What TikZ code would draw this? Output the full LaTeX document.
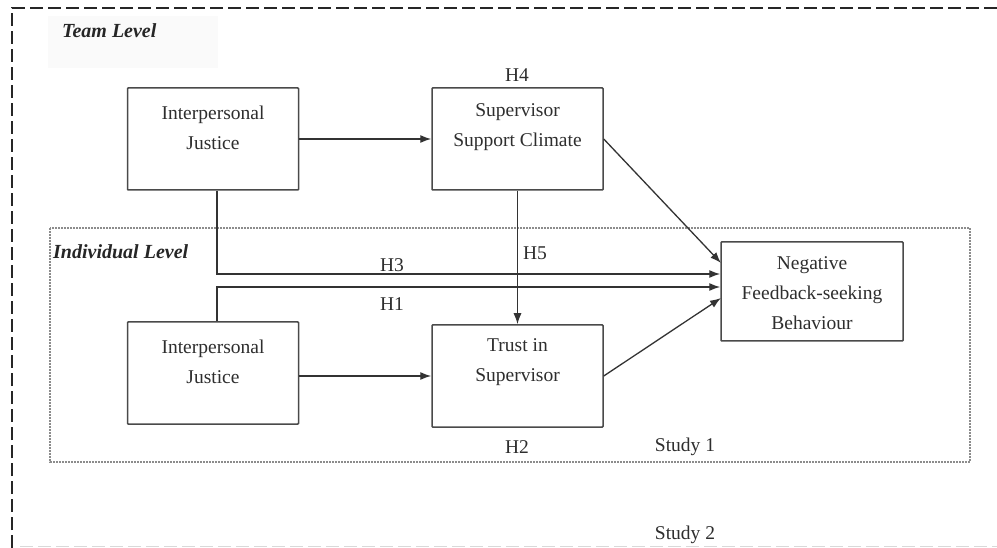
\documentclass[tikz,border=0pt]{standalone}
\usepackage{fontspec}
\setmainfont{Liberation Serif}
\usetikzlibrary{arrows.meta}
\definecolor{boxline}{HTML}{4A4A4A}
\definecolor{txt}{HTML}{2E2E2E}
\tikzset{
  boxnode/.style={draw=boxline, line width=1.5pt, minimum width=171pt, minimum height=102pt, inner sep=0pt, rounded corners=0.8pt},
  boxtext/.style={text=txt, align=center, font=\fontsize{19.5}{30}\selectfont, inner sep=0pt},
  lbl/.style={text=txt, font=\fontsize{19.5}{24}\selectfont, inner sep=0pt},
  lvl/.style={text=black!85, font=\fontsize{20}{24}\selectfont\bfseries\itshape, inner sep=0pt, anchor=west},
  conn/.style={draw=black!80, line width=1.3pt, -{Latex[length=11pt,width=8pt]}},
}
\begin{document}
\begin{tikzpicture}[x=1pt,y=-1pt]
\useasboundingbox (0,0) rectangle (997,548);
\fill[white] (0,0) rectangle (997,548);
% faint label background
\fill[black!2] (48,16) rectangle (218,68);
% outer dashed frame
\draw[black!85, line width=2pt, dash pattern=on 13pt off 5pt] (12,548) -- (12,8) -- (997,8);
\draw[black!15, line width=1pt, dash pattern=on 13pt off 5pt] (20,546) -- (997,546);
% inner dotted frame
\draw[black!45, line width=1.3pt, dash pattern=on 2pt off 1pt] (50,228) rectangle (970,462);
% level labels
\node[lvl] (team) at (62,31) {Team Level};
\node[lvl] (indiv) at (53,252) {Individual Level};
% boxes
\node[boxnode] (ijt) at (213,139) {};
\node[boxnode] (ssc) at (517.5,139) {};
\node[boxnode, minimum width=182pt, minimum height=99pt] (nfsb) at (812,291.5) {};
\node[boxnode] (iji) at (213,373) {};
\node[boxnode] (tis) at (517.5,376) {};
% box texts
\node[boxtext] (ijtT) at (213,127.5) {Interpersonal\\Justice};
\node[boxtext] (sscT) at (517.5,127) {Supervisor\\Support Climate};
\node[boxtext] (nfsbT) at (812,293) {Negative\\Feedback-seeking\\Behaviour};
\node[boxtext] (ijiT) at (213,362) {Interpersonal\\Justice};
\node[boxtext] (tisT) at (517.5,362) {Trust in\\Supervisor};
% connectors
\coordinate (h3a) at (217,274);
\coordinate (h1a) at (217,287);
\coordinate (sscend) at (721,263);
\coordinate (tisend) at (721,298);
\draw[conn] (ijt.east) -- (ssc.west);
\draw[conn] (ssc.east) -- (sscend);
\draw[conn] (ijt.south -| h3a) -- (h3a) -- (h3a -| nfsb.west);
\draw[conn] (iji.north -| h1a) -- (h1a) -- (h1a -| nfsb.west);
\draw[conn] (ssc.south) -- (tis.north);
\draw[conn] (iji.east |- tis.west) -- (tis.west);
\draw[conn] (tis.east) -- (tisend);
% hypothesis labels
\node[lbl] (H4) at (517,75) {H4};
\node[lbl] (H3) at (392,265) {H3};
\node[lbl] (H1) at (392,304) {H1};
\node[lbl] (H5) at (535,253) {H5};
\node[lbl] (H2) at (517,447) {H2};
\node[lbl] (S1) at (685,447) {Study 1};
\node[lbl] (S2) at (685,535) {Study 2};
\end{tikzpicture}
\end{document}
